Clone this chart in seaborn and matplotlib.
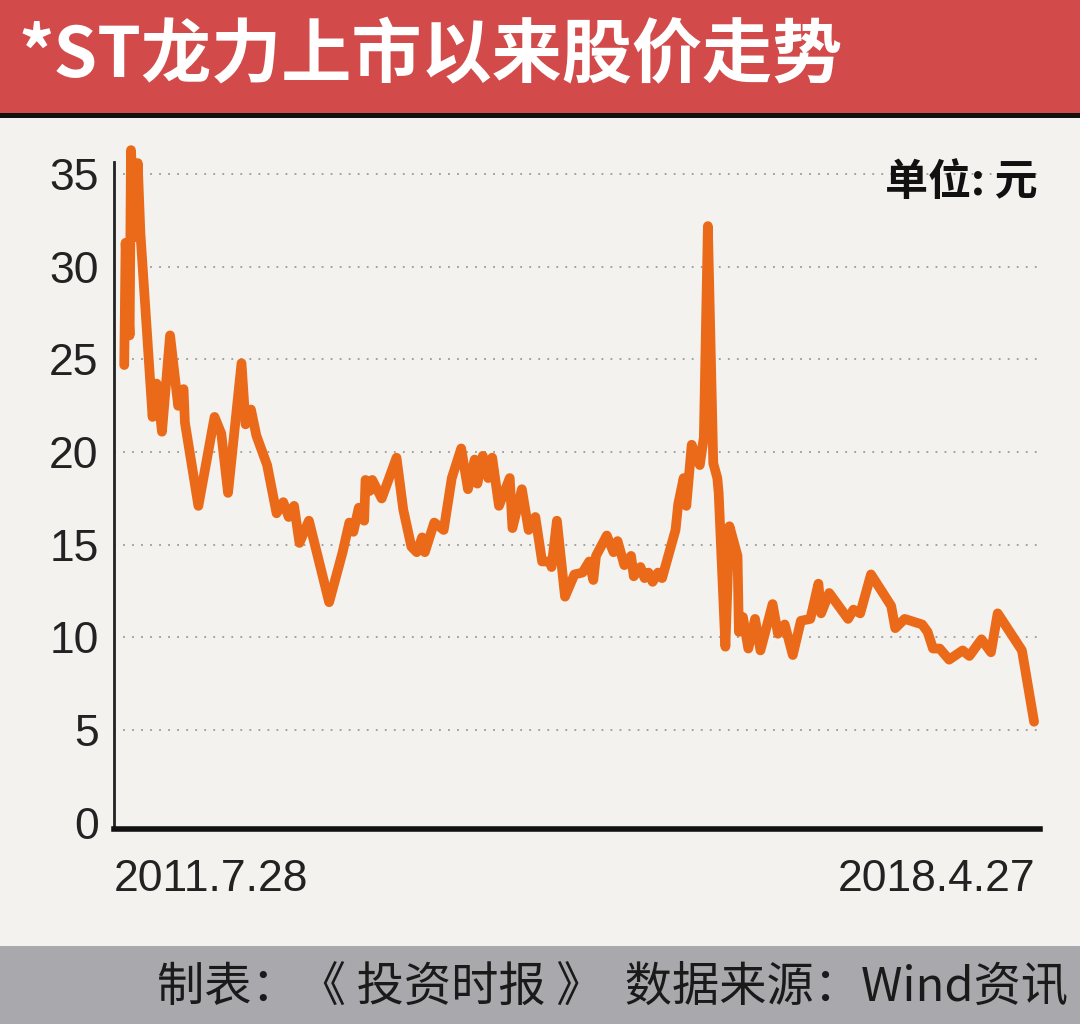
import pandas as pd
import numpy as np
import matplotlib
matplotlib.use("Agg")
import matplotlib.pyplot as plt
import seaborn as sns

# chart data
years = [2011.57, 2011.58, 2011.61, 2011.62, 2011.65, 2011.67, 2011.69, 2011.78, 2011.81, 2011.85,
         2011.91, 2011.97, 2012.01, 2012.02, 2012.12, 2012.24, 2012.29, 2012.34, 2012.44, 2012.47,
         2012.51, 2012.55, 2012.63, 2012.70, 2012.75, 2012.79, 2012.83, 2012.87, 2012.94, 2013.09,
         2013.19, 2013.24, 2013.27, 2013.31, 2013.35, 2013.36, 2013.39, 2013.41, 2013.48, 2013.59,
         2013.64, 2013.70, 2013.74, 2013.78, 2013.80, 2013.87, 2013.94, 2014.00, 2014.07, 2014.12,
         2014.17, 2014.19, 2014.23, 2014.27, 2014.30, 2014.35, 2014.43, 2014.45, 2014.52, 2014.57,
         2014.62, 2014.67, 2014.73, 2014.74, 2014.78, 2014.84, 2014.91, 2014.97, 2015.02, 2015.05,
         2015.07, 2015.15, 2015.20, 2015.23, 2015.28, 2015.33, 2015.35, 2015.40, 2015.43, 2015.46,
         2015.49, 2015.53, 2015.56, 2015.66, 2015.68, 2015.72, 2015.74, 2015.78, 2015.84, 2015.87,
         2015.90, 2015.94, 2015.97, 2015.98, 2016.03, 2016.06, 2016.12, 2016.13, 2016.16, 2016.20,
         2016.25, 2016.29, 2016.38, 2016.42, 2016.47, 2016.53, 2016.59, 2016.66, 2016.72, 2016.74,
         2016.80, 2016.94, 2016.98, 2017.03, 2017.11, 2017.26, 2017.29, 2017.36, 2017.49, 2017.53,
         2017.57, 2017.62, 2017.69, 2017.79, 2017.84, 2017.93, 2018.00, 2018.05, 2018.23, 2018.32]

prices = [24.7, 31.3, 26.3, 36.3, 31.6, 35.6, 31.8, 21.9, 23.7, 21.1,
          26.3, 22.5, 23.4, 21.6, 17.1, 21.9, 21.0, 17.8, 24.8, 21.5,
          22.3, 20.9, 19.3, 16.7, 17.3, 16.5, 17.1, 15.1, 16.3, 11.9,
          14.6, 16.2, 15.7, 17.0, 16.3, 18.5, 17.9, 18.5, 17.5, 19.7,
          16.9, 14.9, 14.6, 15.4, 14.6, 16.2, 15.8, 18.6, 20.2, 18.0,
          19.6, 18.3, 19.8, 18.6, 19.7, 17.1, 18.6, 15.9, 18.0, 15.8,
          16.5, 14.1, 14.1, 13.8, 16.3, 12.2, 13.4, 13.5, 14.1, 13.1,
          14.4, 15.5, 14.6, 15.2, 13.9, 14.4, 13.3, 13.8, 13.2, 13.5,
          13.0, 13.5, 13.2, 15.8, 17.2, 18.6, 17.1, 20.4, 19.3, 20.8,
          32.2, 19.4, 18.6, 17.8, 9.5, 16.0, 14.4, 10.3, 11.1, 9.4,
          11.0, 9.3, 11.8, 10.2, 10.7, 9.05, 10.9, 11.0, 12.9, 11.3,
          12.4, 11.0, 11.5, 11.3, 13.4, 11.7, 10.5, 11.0, 10.7, 10.3,
          9.4, 9.4, 8.8, 9.3, 9.0, 9.9, 9.2, 11.3, 9.3, 5.45]

y_ticks = [0, 5, 10, 15, 20, 25, 30, 35]
start_label = "2011.7.28"
end_label = "2018.4.27"
title = "*ST龙力上市以来股价走势"
unit_label = "单位: 元"
footer = "制表：《 投资时报 》  数据来源：Wind资讯"

bg = "#f3f2ef"
red = "#d34a4a"
orange = "#ea6a1a"
footer_grey = "#a9a8ac"

sns.set_style("white")
plt.rcParams["font.family"] = ["Liberation Sans", "Noto Sans CJK SC", "DejaVu Sans"]
cjk = ["Noto Sans CJK SC", "DejaVu Sans"]

df = pd.DataFrame({"year": years, "price": prices})

fig = plt.figure(figsize=(10.8, 10.24), dpi=100)
fig.patch.set_facecolor(bg)

# title band and footer band
fig.patches.append(plt.Rectangle((0, 1 - 113 / 1024), 1, 113 / 1024, transform=fig.transFigure,
                                 facecolor=red, edgecolor="none", zorder=0))
fig.patches.append(plt.Rectangle((0, 1 - 118 / 1024), 1, 5 / 1024, transform=fig.transFigure,
                                 facecolor="#111111", edgecolor="none", zorder=0))
fig.patches.append(plt.Rectangle((0, 0), 1, 78 / 1024, transform=fig.transFigure,
                                 facecolor=footer_grey, edgecolor="none", zorder=0))

fig.text(18 / 1080, 1 - 57 / 1024, title, color="white", fontsize=50.5, fontweight="bold",
         family=cjk, ha="left", va="center")
fig.text(1068 / 1080, 1 - 987 / 1024, footer, color="#1a1a1a", fontsize=34,
         family=cjk, ha="right", va="center")

ax = fig.add_axes([114 / 1080, 0.1902, (1040 - 114) / 1080, 0.8661 - 0.1902])
ax.set_facecolor(bg)

sns.lineplot(data=df, x="year", y="price", ax=ax, color=orange, linewidth=7,
             estimator=None, sort=False, solid_joinstyle="round", solid_capstyle="round", zorder=3)

ax.set_xlim(2011.494, 2018.364)
ax.set_ylim(-0.35, 37)
ax.set_yticks(y_ticks)
ax.set_yticklabels([str(t) for t in y_ticks], fontsize=32, color="#222222")
ax.tick_params(axis="y", length=0, pad=11)
ax.set_xticks([])
ax.set_xlabel("")
ax.set_ylabel("")

for t in y_ticks[1:]:
    ax.axhline(t, color="#9a9a9a", linewidth=1.3, linestyle=(0, (1, 4)), zorder=1)

for side in ["top", "right"]:
    ax.spines[side].set_visible(False)
ax.spines["left"].set_bounds(-0.35, 35.65)
ax.spines["left"].set_linewidth(2)
ax.spines["left"].set_color("#222222")
ax.spines["bottom"].set_linewidth(4)
ax.spines["bottom"].set_color("#111111")

ax.text(0.997, 34.6, unit_label, transform=ax.get_yaxis_transform(), ha="right", va="center",
        fontsize=31, fontweight="bold", family=cjk, color="#111111")
ax.text(0.0, -0.072, start_label, transform=ax.transAxes, ha="left", va="center",
        fontsize=32, color="#222222")
ax.text(0.995, -0.072, end_label, transform=ax.transAxes, ha="right", va="center",
        fontsize=32, color="#222222")

fig.savefig("out.png", dpi=100, facecolor=fig.get_facecolor())
